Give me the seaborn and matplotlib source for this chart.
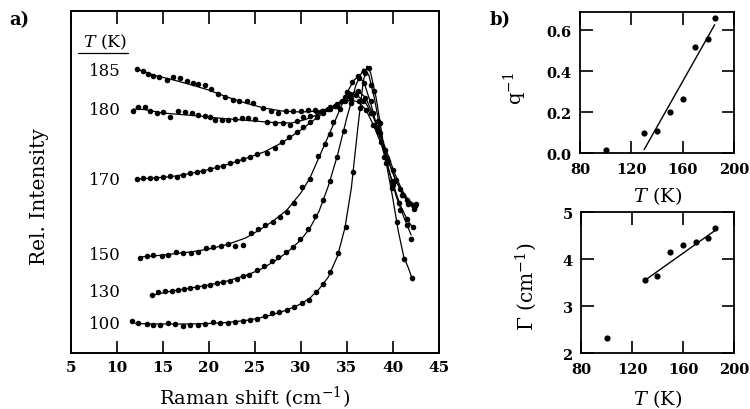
import matplotlib
matplotlib.use("Agg")
import matplotlib.pyplot as plt
import seaborn as sns

sns.set_style("ticks")
plt.rcParams['font.family'] = ['DejaVu Serif']
plt.rcParams['mathtext.fontset'] = 'dejavuserif'
for key in ['text.color', 'axes.labelcolor', 'xtick.color', 'ytick.color', 'axes.edgecolor']:
    plt.rcParams[key] = 'black'

# ---------------- panel a) : Raman spectra (arbitrary intensity units) ----------------
temps = [100, 130, 150, 170, 180, 185]
label_y = [29, 62, 99, 174, 244, 283]

x100 = [11.63, 12.35, 13.26, 13.98, 14.71, 15.61, 16.34, 17.17, 17.97, 18.80, 19.60, 20.50, 21.23, 22.07,
        22.86, 23.70, 24.49, 25.22, 26.12, 26.91, 27.67, 28.48, 29.30, 30.11, 30.93, 31.66, 32.46, 33.18,
        34.09, 34.92, 35.72, 36.45, 37.0, 37.4, 38.0, 38.62, 39.3, 39.9, 40.43, 41.26, 42.07]
y100 = [32.3, 30.0, 28.7, 28.3, 28.3, 29.7, 28.7, 27.3, 27.7, 28.0, 29.3, 30.7, 29.7, 30.0, 31.0, 32.0,
        33.0, 34.0, 36.7, 39.7, 40.7, 43.0, 45.7, 49.7, 53.3, 60.7, 69.0, 80.7, 100.0, 126.3, 180.7, 245,
        280, 285, 262, 230, 190, 165, 131.3, 94, 74.7]
fx100 = [12.0, 14, 16, 18, 20, 22, 24, 25.5, 27, 28.5, 30, 31, 32, 33, 34, 34.8, 35.5, 36.2, 36.8, 37.2,
         37.6, 38.2, 38.8, 39.4, 40.0, 40.6, 41.2, 41.7, 42.2]
fy100 = [29.5, 29, 29, 29, 29.5, 30.5, 32.5, 35, 38.5, 43, 49, 55, 64, 76, 97, 125, 165, 225, 272, 287,
         280, 255, 220, 185, 155, 122, 96, 85, 72]

x130 = [13.87, 14.53, 15.25, 15.98, 16.70, 17.32, 17.97, 18.70, 19.49, 20.14, 20.87, 21.59, 22.32, 23.04,
        23.70, 24.38, 25.22, 26.01, 26.85, 27.57, 28.40, 29.20, 29.92, 30.83, 31.55, 32.39, 33.18, 33.98,
        34.7, 35.5, 36.3, 36.9, 37.6, 38.4, 39.2, 40.0, 40.8, 41.6, 42.0]
y130 = [58.3, 60.7, 61.7, 62.3, 63.0, 64.0, 65.0, 66.3, 67.3, 68.3, 69.7, 70.7, 72.3, 74.0, 76.7, 78.3,
        83.3, 87.3, 92.3, 95.7, 101.3, 105.7, 114.0, 124.0, 137.3, 153.3, 172.3, 196, 222, 250, 275, 282,
        268, 232, 196, 168, 143, 128, 114]
fx130 = [14, 16, 18, 20, 22, 24, 25.5, 27, 28.5, 30, 31, 32, 33, 34, 35, 36, 36.8, 37.4, 38, 38.8, 39.6,
         40.4, 41.2, 42.0]
fy130 = [58, 62, 65, 68, 72, 77.5, 83, 91, 100.5, 113, 125, 142, 167, 198, 235, 268, 284, 278, 255, 215,
         182, 156, 136, 118]

x150 = [12.54, 13.26, 13.98, 14.89, 15.61, 16.45, 17.24, 18.04, 18.80, 19.71, 20.50, 21.30, 22.13, 22.86,
        23.70, 24.57, 25.39, 26.12, 26.96, 27.75, 28.55, 29.30, 30.11, 31.0, 31.91, 32.64, 33.18, 33.54,
        34.27, 35.0, 35.54, 36.2, 36.9, 37.6, 38.3, 39.1, 39.9, 40.7, 41.5, 42.17]
y150 = [95, 97.3, 98, 96.7, 98, 100.7, 100, 100, 101.3, 104.7, 105.7, 107.3, 109, 107.3, 108.3, 120, 124,
        128, 130.7, 136.3, 140.7, 150, 165.7, 174, 197.3, 209, 219, 230.7, 244, 260.7, 270.7, 277, 270,
        252, 226, 196, 172, 150, 134, 125.7]
fx150 = [12.5, 14, 16, 18, 20, 22, 24, 25.5, 27, 28.5, 30, 31, 32, 33, 34, 35, 35.8, 36.3, 36.9, 37.6,
         38.4, 39.2, 40.0, 40.8, 41.6, 42.2]
fy150 = [96, 97, 99, 101, 104, 108.5, 115, 123, 132, 143, 160, 175, 196, 217, 238, 260, 273, 277, 270,
         250, 222, 194, 170, 148, 133, 125]

x170 = [12.17, 12.89, 13.62, 14.27, 15.00, 15.79, 16.52, 17.24, 17.97, 18.70, 19.41, 20.14, 20.87, 21.59,
        22.32, 23.04, 23.76, 24.49, 25.22, 26.30, 27.21, 27.93, 28.76, 29.57, 30.28, 31.01, 31.74, 32.46,
        33.18, 33.98, 34.82, 35.36, 36.2, 37.0, 37.8, 38.6, 39.4, 40.2, 41.0, 41.7, 42.3]
y170 = [174, 174.7, 174.7, 175, 176.3, 177, 175.7, 178.3, 179.7, 180.7, 182.3, 184, 185.7, 187.3, 190,
        191.7, 194, 195.7, 199, 199.7, 205, 210.7, 216.3, 220.7, 225.7, 230.7, 235.7, 239.7, 244, 249,
        255.7, 259, 262, 255, 240, 220, 195, 172, 158, 149, 144]
fx170 = [12.2, 14, 16, 18, 20, 22, 24, 26, 28, 30, 32, 33.5, 34.5, 35.4, 36.2, 37.0, 37.8, 38.6, 39.4,
         40.2, 41.0, 41.7, 42.3]
fy170 = [174, 175, 176.5, 179.5, 183.5, 188.5, 194.5, 201, 210.5, 223, 237, 246, 253, 259, 262, 256,
         240, 219, 196, 175, 160, 150, 145]

x180 = [11.74, 12.35, 13.08, 13.62, 14.35, 15.07, 15.79, 16.70, 17.42, 18.15, 18.87, 19.60, 20.14, 20.68,
        21.41, 22.13, 22.86, 23.59, 24.30, 25.03, 26.30, 27.21, 28.04, 28.84, 29.57, 30.28, 31.01, 31.74,
        32.46, 33.18, 33.98, 34.8, 35.5, 36.3, 37.1, 37.9, 38.7, 39.5, 40.3, 41.1, 41.8, 42.4]
y180 = [242.3, 245.7, 246.3, 242.3, 239.7, 240.7, 236.3, 241.7, 240.7, 239.7, 238, 237.3, 235.7, 233.3,
        233, 233.3, 234, 235, 235, 234, 231.3, 229.7, 229.7, 228.3, 232.3, 235.7, 237.3, 240.7, 242.3,
        245.7, 247.3, 252, 254, 252, 243, 228, 211, 192, 173, 158, 150, 147]
fx180 = [11.8, 13, 15, 17, 19, 21, 23, 25, 27, 29, 30.5, 32, 33.5, 34.5, 35.4, 36.3, 37.1, 37.9, 38.7,
         39.5, 40.3, 41.1, 41.8, 42.4]
fy180 = [244, 243.5, 240, 238.5, 237, 235, 233.5, 232, 230.5, 230, 233.5, 239, 245, 250, 253, 251, 243,
         228, 210, 192, 174, 159, 150, 146]

x185 = [12.17, 12.83, 13.43, 13.98, 14.63, 15.43, 16.15, 16.88, 17.61, 18.26, 18.87, 19.60, 20.25, 21.04,
        21.77, 22.61, 23.33, 24.13, 24.85, 25.94, 26.74, 27.57, 28.40, 29.20, 30.0, 30.83, 31.55, 32.28,
        33.0, 33.73, 34.5, 35.3, 36.0, 36.8, 37.6, 38.4, 39.2, 40.0, 40.8, 41.5, 42.2, 42.5]
y185 = [284, 281.7, 279, 277.3, 276.3, 273, 275.7, 275, 272.3, 269.7, 269, 268.3, 264, 259, 255.7, 253,
        252.3, 252.3, 249.7, 244.7, 241.7, 239.7, 242.3, 241.7, 242.3, 243, 243, 242.3, 244, 247.3, 252,
        257, 258, 252, 240, 222, 203, 183, 164, 153, 148, 149]
fx185 = [12.2, 14, 16, 18, 20, 22, 24, 26, 28, 30, 32, 33.5, 34.5, 35.5, 36.2, 37.0, 37.8, 38.6, 39.4,
         40.2, 41.0, 41.7, 42.4]
fy185 = [284, 278, 273.5, 268.5, 263, 256, 250, 245, 242, 241, 242, 246, 251, 256, 257, 251, 238, 220,
         200, 180, 163, 153, 148]

x_ticks_a = [5, 10, 15, 20, 25, 30, 35, 40, 45]

# ---------------- panel b) : fit parameters ----------------
T_vals = [100, 130, 140, 150, 160, 170, 180, 185]
q_inv = [0.016, 0.10, 0.11, 0.20, 0.264, 0.52, 0.556, 0.66]
gamma = [2.32, 3.55, 3.64, 4.15, 4.30, 4.36, 4.45, 4.67]
fit_T = [130, 185]
q_fit = [0.018, 0.628]
g_fit = [3.55, 4.61]

curves = [(x100, y100, fx100, fy100), (x130, y130, fx130, fy130), (x150, y150, fx150, fy150),
          (x170, y170, fx170, fy170), (x180, y180, fx180, fy180), (x185, y185, fx185, fy185)]

fig = plt.figure(figsize=(7.5, 4.1), dpi=100)

ax = fig.add_axes([0.0943, 0.1366, 0.4907, 0.834])
for xs, ys, fxs, fys in curves:
    sns.lineplot(x=fxs, y=fys, ax=ax, color='k', lw=0.9, sort=False, estimator=None)
    sns.scatterplot(x=xs, y=ys, ax=ax, color='k', s=16, linewidth=0, legend=False)
ax.set_xlim(5, 45)
ax.set_ylim(0, 342)
ax.set_xticks(x_ticks_a)
ax.set_yticks([])
ax.tick_params(axis='x', direction='in', top=True, bottom=True, length=9, width=1.2,
               labelsize=11, pad=5)
plt.setp(ax.get_xticklabels(), fontweight='bold')
for s in ax.spines.values():
    s.set_linewidth(1.4)
for T, ly in zip(temps, label_y):
    ax.text(10.4, ly, str(T), ha='right', va='center', fontsize=12)
ax.text(8.7, 312, r'$T$ (K)', ha='center', va='center', fontsize=12.5)
ax.plot([5.8, 11.2], [300, 300], color='k', lw=0.9)
ax.set_xlabel('')
ax.set_ylabel('')
fig.text(0.34, 0.03, r'Raman shift (cm$^{-1}$)', ha='center', va='center', fontsize=14)
fig.text(0.053, 0.52, 'Rel. Intensity', rotation=90, ha='center', va='center', fontsize=14.5)
fig.text(0.013, 0.951, 'a)', fontweight='bold', fontsize=13, ha='left', va='center')
fig.text(0.653, 0.951, 'b)', fontweight='bold', fontsize=13, ha='left', va='center')

# top right
ax1 = fig.add_axes([0.7733, 0.6237, 0.2053, 0.3446])
sns.scatterplot(x=T_vals, y=q_inv, ax=ax1, color='k', s=20, linewidth=0, legend=False)
sns.lineplot(x=fit_T, y=q_fit, ax=ax1, color='k', lw=1.0, estimator=None)
ax1.set_xlim(80, 200)
ax1.set_ylim(0, 0.69)
ax1.set_xticks([80, 120, 160, 200])
ax1.set_yticks([0.0, 0.2, 0.4, 0.6])
ax1.set_yticklabels(['0.0', '0.2', '0.4', '0.6'])
ax1.set_xlabel('')
ax1.set_ylabel('')
fig.text(0.877, 0.522, r'$T$ (K)', ha='center', va='center', fontsize=14)
fig.text(0.687, 0.785, r'q$^{-1}$', rotation=90, ha='center', va='center', fontsize=14)

# bottom right
ax2 = fig.add_axes([0.7747, 0.1359, 0.2039, 0.3439])
sns.scatterplot(x=T_vals, y=gamma, ax=ax2, color='k', s=20, linewidth=0, legend=False)
sns.lineplot(x=fit_T, y=g_fit, ax=ax2, color='k', lw=1.0, estimator=None)
ax2.set_xlim(80, 200)
ax2.set_ylim(2, 5)
ax2.set_xticks([80, 120, 160, 200])
ax2.set_yticks([2, 3, 4, 5])
ax2.set_xlabel('')
ax2.set_ylabel('')
fig.text(0.877, 0.027, r'$T$ (K)', ha='center', va='center', fontsize=14)
fig.text(0.701, 0.30, r'$\Gamma$ (cm$^{-1}$)', rotation=90, ha='center', va='center', fontsize=14.5)

for a in (ax1, ax2):
    a.tick_params(direction='in', top=True, right=True, length=9, width=1.2, labelsize=10.5, pad=6)
    plt.setp(a.get_xticklabels(), fontweight='bold')
    plt.setp(a.get_yticklabels(), fontweight='bold')
    for s in a.spines.values():
        s.set_linewidth(1.3)

fig.savefig('out.png', dpi=100)
